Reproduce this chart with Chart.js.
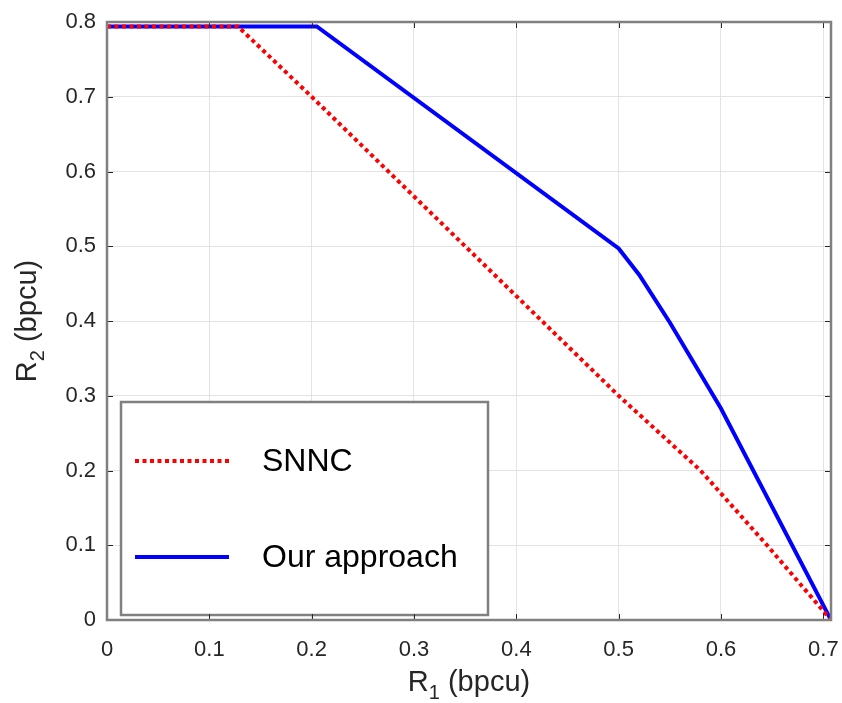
<!DOCTYPE html>
<html>
<head>
<meta charset="utf-8">
<script src="https://cdn.jsdelivr.net/npm/chart.js@4/dist/chart.umd.min.js"></script>
<style>
html,body{margin:0;padding:0;background:#fff;}
#wrap{width:842px;height:703px;}
</style>
</head>
<body>
<div id="wrap"><canvas id="c" width="842" height="703"></canvas></div>
<script>
// ---- data ----
const seriesNames = ['SNNC', 'Our approach'];
const snncR1 = [0, 0.128, 0.2, 0.35, 0.5, 0.58, 0.645, 0.7075];
const snncR2 = [0.794, 0.794, 0.7, 0.5, 0.3, 0.2, 0.1, 0];
const oursR1 = [0, 0.205, 0.5, 0.52, 0.55, 0.6, 0.7075];
const oursR2 = [0.794, 0.794, 0.497, 0.462, 0.398, 0.283, 0];
const xTickValues = [0, 0.1, 0.2, 0.3, 0.4, 0.5, 0.6, 0.7];
const xTickLabels = ['0', '0.1', '0.2', '0.3', '0.4', '0.5', '0.6', '0.7'];
const yTickValues = [0, 0.1, 0.2, 0.3, 0.4, 0.5, 0.6, 0.7, 0.8];
const yTickLabels = ['0', '0.1', '0.2', '0.3', '0.4', '0.5', '0.6', '0.7', '0.8'];
const xTitle = ['R', '1', ' (bpcu)'];
const yTitle = ['R', '2', ' (bpcu)'];

const FONT = '"Liberation Sans", Arial, Helvetica, sans-serif';
const AXIS_COLOR = '#808080';
const TEXT_COLOR = '#262626';

function pts(xs, ys) { return xs.map((x, i) => ({x: x, y: ys[i]})); }

const framePlugin = {
  id: 'frame',
  afterDraw(chart) {
    const ctx = chart.ctx, ca = chart.chartArea;
    const xs = chart.scales.x, ys = chart.scales.y;
    ctx.save();
    // inward ticks on all four sides
    ctx.strokeStyle = '#262626';
    ctx.lineWidth = 1;
    const tl = 6;
    ctx.beginPath();
    xTickValues.forEach(v => {
      const px = Math.round(xs.getPixelForValue(v)) + 0.5;
      ctx.moveTo(px, ca.bottom); ctx.lineTo(px, ca.bottom - tl);
      ctx.moveTo(px, ca.top); ctx.lineTo(px, ca.top + tl);
    });
    yTickValues.forEach(v => {
      const py = Math.round(ys.getPixelForValue(v)) + 0.5;
      ctx.moveTo(ca.left, py); ctx.lineTo(ca.left + tl, py);
      ctx.moveTo(ca.right, py); ctx.lineTo(ca.right - tl, py);
    });
    ctx.stroke();
    // box
    ctx.strokeStyle = AXIS_COLOR;
    ctx.lineWidth = 2.5;
    ctx.strokeRect(ca.left, ca.top, ca.right - ca.left, ca.bottom - ca.top);
    // axis titles with subscripts
    const drawSub = (parts, size) => {
      ctx.font = size + 'px ' + FONT;
      const w0 = ctx.measureText(parts[0]).width;
      ctx.font = Math.round(size * 0.7) + 'px ' + FONT;
      const w1 = ctx.measureText(parts[1]).width;
      ctx.font = size + 'px ' + FONT;
      const w2 = ctx.measureText(parts[2]).width;
      const total = w0 + w1 + w2;
      let x = -total / 2;
      ctx.textBaseline = 'middle';
      ctx.textAlign = 'left';
      ctx.fillStyle = TEXT_COLOR;
      ctx.font = size + 'px ' + FONT;
      ctx.fillText(parts[0], x, 0); x += w0;
      ctx.font = Math.round(size * 0.7) + 'px ' + FONT;
      ctx.fillText(parts[1], x, size * 0.35); x += w1;
      ctx.font = size + 'px ' + FONT;
      ctx.fillText(parts[2], x, 0);
    };
    ctx.save();
    ctx.translate((ca.left + ca.right) / 2, 683);
    drawSub(xTitle, 29);
    ctx.restore();
    ctx.save();
    ctx.translate(28, (ca.top + ca.bottom) / 2);
    ctx.rotate(-Math.PI / 2);
    drawSub(yTitle, 29);
    ctx.restore();
    ctx.restore();
  }
};

const legendPlugin = {
  id: 'boxLegend',
  afterDatasetsDraw(chart) {
    const ctx = chart.ctx, ca = chart.chartArea;
    const bx = ca.left + 14, by = ca.bottom - 218, bw = 367, bh = 213;
    ctx.save();
    ctx.fillStyle = '#ffffff';
    ctx.fillRect(bx, by, bw, bh);
    ctx.strokeStyle = AXIS_COLOR;
    ctx.lineWidth = 2.5;
    ctx.strokeRect(bx, by, bw, bh);
    const rows = [59, 155];
    chart.data.datasets.forEach((ds, i) => {
      const y = by + rows[i];
      ctx.beginPath();
      ctx.strokeStyle = ds.borderColor;
      ctx.lineWidth = ds.borderWidth;
      ctx.setLineDash(ds.borderDash || []);
      ctx.moveTo(bx + 14, y);
      ctx.lineTo(bx + 108, y);
      ctx.stroke();
      ctx.setLineDash([]);
      ctx.fillStyle = '#000000';
      ctx.font = '32px ' + FONT;
      ctx.textAlign = 'left';
      ctx.textBaseline = 'middle';
      ctx.fillText(ds.label, bx + 141, y + 1);
    });
    ctx.restore();
  }
};

new Chart(document.getElementById('c'), {
  type: 'line',
  data: {
    datasets: [
      {
        label: seriesNames[0],
        data: pts(snncR1, snncR2),
        borderColor: '#ff0000',
        borderWidth: 4,
        borderDash: [4, 3.5],
        pointRadius: 0,
        fill: false,
        tension: 0
      },
      {
        label: seriesNames[1],
        data: pts(oursR1, oursR2),
        borderColor: '#0000ff',
        borderWidth: 4,
        pointRadius: 0,
        fill: false,
        tension: 0
      }
    ]
  },
  options: {
    responsive: false,
    animation: false,
    layout: { padding: { left: 0, top: 22, right: 11, bottom: 0 } },
    plugins: { legend: { display: false }, tooltip: { enabled: false } },
    scales: {
      x: {
        type: 'linear',
        min: 0,
        max: 0.7075,
        afterBuildTicks: s => { s.ticks = xTickValues.map(v => ({value: v})); },
        afterFit: s => { s.height = 83; s.paddingLeft = 0; s.paddingRight = 0; },
        grid: { color: '#e3e3e3', lineWidth: 1, drawTicks: false },
        border: { display: false },
        ticks: {
          padding: 17,
          color: TEXT_COLOR,
          font: { family: FONT, size: 22 },
          maxRotation: 0,
          callback: (v, i) => xTickLabels[i]
        }
      },
      y: {
        type: 'linear',
        min: 0,
        max: 0.8,
        afterBuildTicks: s => { s.ticks = yTickValues.map(v => ({value: v})); },
        afterFit: s => { s.width = 107; s.paddingTop = 0; s.paddingBottom = 0; },
        grid: { color: '#e3e3e3', lineWidth: 1, drawTicks: false },
        border: { display: false },
        ticks: {
          padding: 11,
          color: TEXT_COLOR,
          font: { family: FONT, size: 22 },
          callback: (v, i) => yTickLabels[i]
        }
      }
    }
  },
  plugins: [framePlugin, legendPlugin]
});
</script>
</body>
</html>
